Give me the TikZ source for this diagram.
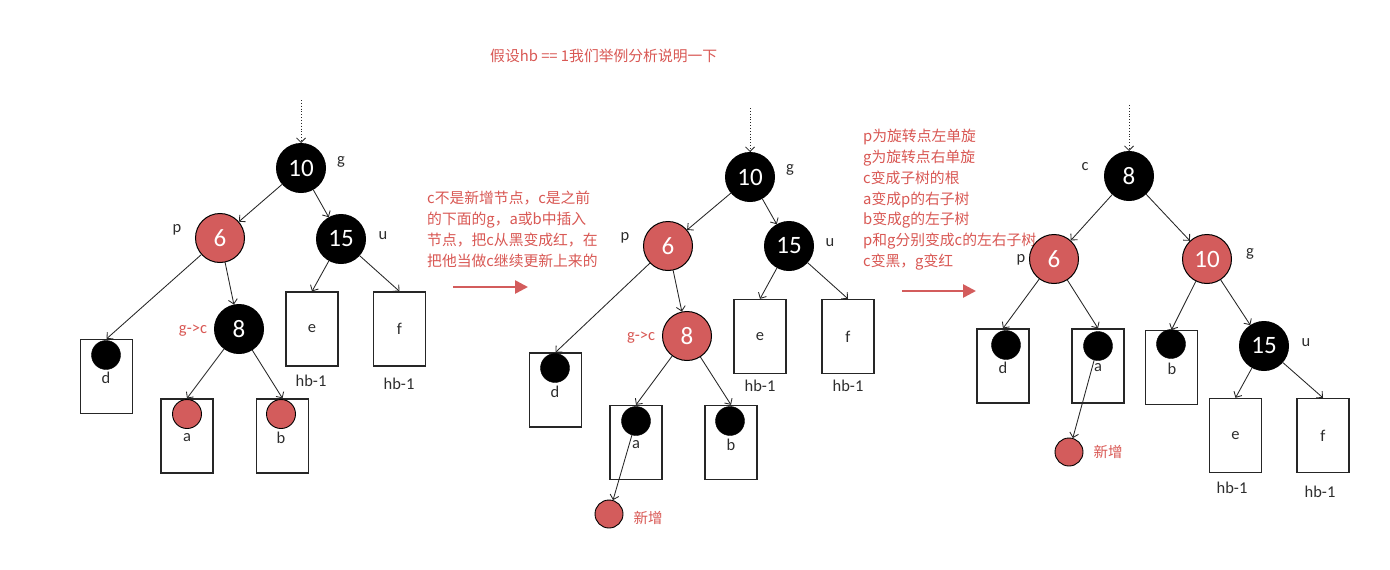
\documentclass[tikz,border=0pt]{standalone}
\usepackage{fontspec}
\setmainfont{Carlito}
\newfontfamily\cjk{Noto Sans CJK SC}
\usetikzlibrary{arrows.meta}
\definecolor{nred}{RGB}{211,92,92}
\definecolor{tred}{RGB}{217,88,84}
\definecolor{lgray}{RGB}{45,45,45}
\tikzset{
  bn/.style={circle, draw=black, fill=black, text=white, minimum size=49pt, inner sep=0pt, line width=1pt, font=\fontsize{25}{27}\selectfont},
  rn/.style={circle, draw=black, fill=nred, text=white, minimum size=49pt, inner sep=0pt, line width=1pt, font=\fontsize{25}{27}\selectfont},
  bleaf/.style={circle, fill=black, draw=black, minimum size=29pt, inner sep=0pt},
  rleaf/.style={circle, fill=nred, draw=black, line width=0.9pt, minimum size=29pt, inner sep=0pt},
  newn/.style={circle, fill=nred, draw=black, line width=0.9pt, minimum size=28pt, inner sep=0pt},
  leafbox/.style={draw=black!85, line width=1.3pt, minimum width=52pt, minimum height=74pt, inner sep=0pt, text=lgray, font=\fontsize{16.5}{18}\selectfont},
  lbl/.style={inner sep=0pt, text=lgray, font=\fontsize{16.5}{18}\selectfont},
  rlbl/.style={inner sep=0pt, text=tred, font=\fontsize{16.5}{18}\selectfont},
  cjklbl/.style={inner sep=0pt, text=tred, font=\cjk\fontsize{14.5}{16}\selectfont},
  cjkline/.style={inner sep=0pt, anchor=base west, text=tred, font=\cjk\fontsize{14.8}{16}\selectfont},
  edge/.style={draw=black!85, line width=0.85pt, -{Straight Barb[length=4.5pt,width=9pt]}},
  dotedge/.style={draw=black!85, line width=0.85pt, dotted, -{Straight Barb[length=4.5pt,width=9pt]}},
  redarrow/.style={draw=nred, line width=2.6pt, -{Triangle[length=13pt,width=13pt]}}
}
\begin{document}
\begin{tikzpicture}[x=1pt,y=-1pt]
\fill[white] (0,0) rectangle (1390,570);
\useasboundingbox (0,0) rectangle (1390,570);

% title
\node[cjkline] (title) at (490,61) {假设hb == 1我们举例分析说明一下};

% ---------------- tree 1 ----------------
\coordinate (Atop) at (301,100);
\node[bn] (A10) at (301,168) {10};
\node[lbl] (Ag) at (341,162) {g};
\node[rn] (A6) at (220,238) {6};
\node[lbl] (Ap) at (177,230) {p};
\node[bn] (A15) at (341,239) {15};
\node[lbl] (Au) at (383,236) {u};
\node[bn] (A8) at (239,329) {8};
\node[rlbl] (Agc) at (193,331) {g->c};
\node[leafbox] (Ad) at (106.5,376.5) {};
\node[bleaf] (Adc) at (106,355) {};
\node[lbl] (Adl) at (106,378) {d};
\node[leafbox] (Aa) at (187,436) {};
\node[rleaf] (Aac) at (187,414) {};
\node[lbl] (Aal) at (187,438) {a};
\node[leafbox] (Ab) at (282.5,436) {};
\node[rleaf] (Abc) at (281,414) {};
\node[lbl] (Abl) at (281,438) {b};
\node[leafbox] (Ae) at (312,329) {e};
\node[lbl] (Aeh) at (311,381) {hb-1};
\node[leafbox] (Af) at (399.5,329) {f};
\node[lbl] (Afh) at (399,384) {hb-1};
\draw[dotedge] (Atop) -- (A10);
\draw[edge] (A10) -- (A6);
\draw[edge] (A10) -- (A15);
\draw[edge] (A6) -- (Ad.north);
\draw[edge] (A6) -- (A8);
\draw[edge] (A8) -- (Aa.north);
\draw[edge] (A8) -- (Ab.north);
\draw[edge] (A15) -- (Ae.north);
\draw[edge] (A15) -- (Af.north);

% text block 1
\node[cjkline] (t1a) at (427,203) {c不是新增节点，c是之前};
\node[cjkline] (t1b) at (427,224) {的下面的g，a或b中插入};
\node[cjkline] (t1c) at (427,245) {节点，把c从黑变成红，在};
\node[cjkline] (t1d) at (427,266) {把他当做c继续更新上来的};
\coordinate (R1s) at (453,287);
\coordinate (R1e) at (528,287);
\draw[redarrow] (R1s) -- (R1e);

% ---------------- tree 2 ----------------
\coordinate (Btop) at (750,108);
\node[bn] (B10) at (750,177) {10};
\node[lbl] (Bg) at (790,170) {g};
\node[rn] (B6) at (668,246) {6};
\node[lbl] (Bp) at (625,238) {p};
\node[bn] (B15) at (789,246) {15};
\node[lbl] (Bu) at (830,243) {u};
\node[rn] (B8) at (687,336) {8};
\node[rlbl] (Bgc) at (641,338) {g->c};
\node[leafbox] (Bd) at (555.5,390) {};
\node[bleaf] (Bdc) at (555,368) {};
\node[lbl] (Bdl) at (555,392) {d};
\node[leafbox] (Ba) at (636,442.5) {};
\node[bleaf] (Bac) at (636,421) {};
\node[lbl] (Bal) at (636,445) {a};
\node[leafbox] (Bb) at (731,442.5) {};
\node[bleaf] (Bbc) at (730,421) {};
\node[lbl] (Bbl) at (731,445) {b};
\node[leafbox] (Be) at (760,336.5) {e};
\node[lbl] (Beh) at (760,386) {hb-1};
\node[leafbox] (Bf) at (848,336.5) {f};
\node[lbl] (Bfh) at (848,386) {hb-1};
\node[newn] (Bn) at (609,514) {};
\node[cjklbl] (Bnl) at (648,518) {新增};
\draw[dotedge] (Btop) -- (B10);
\draw[edge] (B10) -- (B6);
\draw[edge] (B10) -- (B15);
\draw[edge] (B6) -- (Bd.north);
\draw[edge] (B6) -- (B8);
\draw[edge] (B8) -- (Ba.north);
\draw[edge] (B8) -- (Bb.north);
\draw[edge] (B15) -- (Be.north);
\draw[edge] (B15) -- (Bf.north);
\draw[edge] (Bac) -- (Bn);

% text block 2
\node[cjkline] (t2a) at (863,141) {p为旋转点左单旋};
\node[cjkline] (t2b) at (863,162) {g为旋转点右单旋};
\node[cjkline] (t2c) at (863,183) {c变成子树的根};
\node[cjkline] (t2d) at (863,204) {a变成p的右子树};
\node[cjkline] (t2e) at (863,224) {b变成g的左子树};
\node[cjkline] (t2f) at (863,245) {p和g分别变成c的左右子树};
\node[cjkline] (t2g) at (863,266) {c变黑，g变红};
\coordinate (R2s) at (902,291);
\coordinate (R2e) at (976,291);
\draw[redarrow] (R2s) -- (R2e);

% ---------------- tree 3 ----------------
\coordinate (Ctop) at (1129,105);
\node[bn] (C8) at (1129,176) {8};
\node[lbl] (Cc) at (1085,167) {c};
\node[rn] (C6) at (1054,259) {6};
\node[lbl] (Cp) at (1021,260) {p};
\node[rn] (C10) at (1207,259) {10};
\node[lbl] (Cg) at (1250,254) {g};
\node[bn] (C15) at (1264,346) {15};
\node[lbl] (Cu) at (1306,343) {u};
\node[leafbox] (Cd) at (1003,366) {};
\node[bleaf] (Cdc) at (1006,345) {};
\node[lbl] (Cdl) at (1003,368) {d};
\node[leafbox] (Ca) at (1098,366) {};
\node[bleaf] (Cac) at (1098,346) {};
\node[lbl] (Cal) at (1098,368) {a};
\node[leafbox] (Cb) at (1171.5,367.5) {};
\node[bleaf] (Cbc) at (1171,344) {};
\node[lbl] (Cbl) at (1172,369) {b};
\node[leafbox] (Ce) at (1235.5,435.5) {e};
\node[lbl] (Ceh) at (1232,488) {hb-1};
\node[leafbox] (Cf) at (1323,435.5) {f};
\node[lbl] (Cfh) at (1320,492) {hb-1};
\node[newn] (Cn) at (1069,452) {};
\node[cjklbl] (Cnl) at (1108,452) {新增};
\draw[dotedge] (Ctop) -- (C8);
\draw[edge] (C8) -- (C6);
\draw[edge] (C8) -- (C10);
\draw[edge] (C6) -- (Cd.north);
\draw[edge] (C6) -- (Ca.north);
\draw[edge] (C10) -- (Cb.north);
\draw[edge] (C10) -- (C15);
\draw[edge] (C15) -- (Ce.north);
\draw[edge] (C15) -- (Cf.north);
\draw[edge] (Cac) -- (Cn);
\end{tikzpicture}
\end{document}
